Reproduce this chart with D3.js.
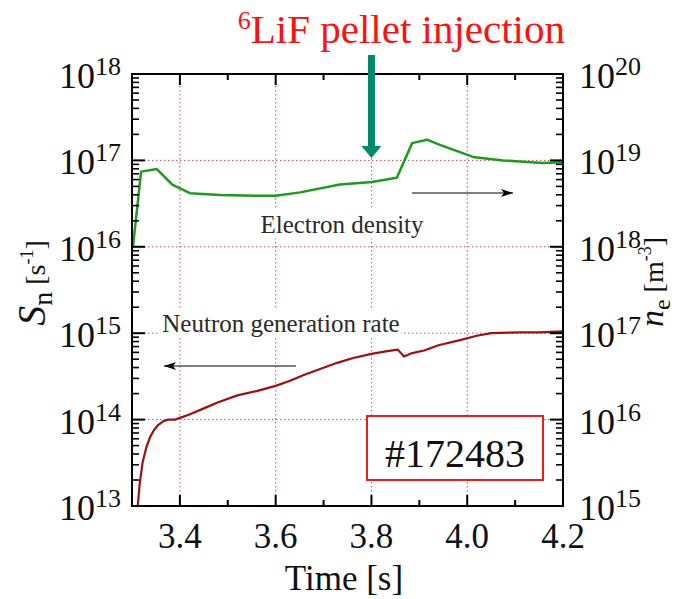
<!DOCTYPE html>
<html>
<head>
<meta charset="utf-8">
<script src="https://cdn.jsdelivr.net/npm/d3@7"></script>
<style>
  body { margin: 0; background: #fff; }
  text { font-family: "Liberation Serif", "Times New Roman", serif; }
</style>
</head>
<body>
<script>
var w = 681;
var h = 599;
var pL = 132, pT = 74, pR = 563, pB = 506;

// neutron generation rate S_n [s^-1], left axis
var snTime = [3.312, 3.316, 3.322, 3.330, 3.338, 3.346, 3.355, 3.365, 3.375, 3.390,
    3.400, 3.420, 3.450, 3.480, 3.520, 3.560, 3.600, 3.630, 3.660, 3.700,
    3.730, 3.760, 3.800, 3.830, 3.855, 3.868, 3.885, 3.910, 3.940, 3.985,
    4.020, 4.050, 4.110, 4.150, 4.200];
var snLog = [13.0, 13.25, 13.5, 13.68, 13.80, 13.88, 13.94, 13.98, 14.0, 14.0,
    14.02, 14.06, 14.13, 14.20, 14.28, 14.33, 14.39, 14.45, 14.52, 14.60,
    14.66, 14.71, 14.76, 14.79, 14.81, 14.73, 14.77, 14.80, 14.86, 14.92,
    14.97, 15.0, 15.01, 15.01, 15.02];

// electron density n_e [m^-3], right axis
var neTime = [3.302, 3.319, 3.352, 3.384, 3.421, 3.484, 3.561, 3.600, 3.651, 3.734,
    3.801, 3.853, 3.885, 3.916, 3.943, 4.012, 4.075, 4.158, 4.200];
var neLog = [18.0, 18.87, 18.90, 18.72, 18.62, 18.60, 18.59, 18.59, 18.63, 18.72,
    18.75, 18.80, 19.20, 19.24, 19.18, 19.04, 19.00, 18.97, 18.98];

var xMajor = [3.4, 3.6, 3.8, 4.0, 4.2];
var xMinor = [3.5, 3.7, 3.9, 4.1];
var leftExp = [13, 14, 15, 16, 17, 18];
var rightExp = [15, 16, 17, 18, 19, 20];
var gridExp = [14, 15, 16, 17];
var shot = "#172483";
var pelletTime = 3.8;

var x = d3.scaleLinear().domain([3.3, 4.2]).range([pL, pR]);
var yL = d3.scaleLog().domain([1e13, 1e18]).range([pB, pT]);
var yR = d3.scaleLog().domain([1e15, 1e20]).range([pB, pT]);

var svg = d3.select("body").append("svg")
    .attr("width", w)
    .attr("height", h);

var defs = svg.append("defs");
defs.append("marker").attr("id", "ah")
    .attr("viewBox", "0 0 12 8").attr("refX", 12).attr("refY", 4)
    .attr("markerWidth", 14).attr("markerHeight", 8)
    .attr("markerUnits", "userSpaceOnUse").attr("orient", "auto")
    .append("path").attr("d", "M0,0 L12,4 L0,8 L3,4 Z").attr("fill", "#000");

// grid
var grid = svg.append("g")
    .attr("stroke", "#b52a2a").attr("stroke-width", 1)
    .attr("stroke-dasharray", "1.5,2.5").attr("opacity", 0.8);
grid.selectAll(".gx").data(xMajor.filter(d => d < 4.2)).enter().append("line")
    .attr("x1", d => x(d)).attr("x2", d => x(d))
    .attr("y1", pT).attr("y2", pB);
grid.selectAll(".gy").data(gridExp).enter().append("line")
    .attr("x1", pL).attr("x2", pR)
    .attr("y1", d => yL(Math.pow(10, d))).attr("y2", d => yL(Math.pow(10, d)));

// curves
var line = d3.line().x(d => x(d[0])).y(d => d[1]);
svg.append("path")
    .datum(neTime.map((t, i) => [t, yR(Math.pow(10, neLog[i]))]))
    .attr("d", line).attr("fill", "none")
    .attr("stroke", "#1e9a1e").attr("stroke-width", 2.5)
    .attr("stroke-linejoin", "round");
svg.append("path")
    .datum(snTime.map((t, i) => [t, yL(Math.pow(10, snLog[i]))]))
    .attr("d", line).attr("fill", "none")
    .attr("stroke", "#9e1010").attr("stroke-width", 2.2)
    .attr("stroke-linejoin", "round");

// annotations with white backing
function label(txt, cx, cy, size) {
    var t = svg.append("text").attr("x", cx).attr("y", cy)
        .attr("text-anchor", "middle").attr("dominant-baseline", "central")
        .attr("font-size", size).attr("fill", "#2a2a2a").text(txt);
    var b = t.node().getBBox();
    svg.insert("rect", "text").attr("x", b.x - 2).attr("y", b.y - 1)
        .attr("width", b.width + 4).attr("height", b.height + 2).attr("fill", "#fff");
}
label("Electron density", 342, 224, 25);
label("Neutron generation rate", 281, 323, 25);

svg.append("line").attr("x1", 412).attr("x2", 513).attr("y1", 193).attr("y2", 193)
    .attr("stroke", "#000").attr("stroke-width", 1).attr("marker-end", "url(#ah)");
svg.append("line").attr("x1", 296).attr("x2", 164).attr("y1", 366).attr("y2", 366)
    .attr("stroke", "#000").attr("stroke-width", 1).attr("marker-end", "url(#ah)");

// shot number box
svg.append("rect").attr("x", 367).attr("y", 416).attr("width", 176).attr("height", 64)
    .attr("fill", "#fff").attr("stroke", "#f01c1c").attr("stroke-width", 2);
svg.append("text").attr("x", 455).attr("y", 467).attr("text-anchor", "middle")
    .attr("font-size", 40).attr("fill", "#111").text(shot);

// axes frame and ticks
var ax = svg.append("g").attr("stroke", "#000");
ax.append("rect").attr("x", pL).attr("y", pT)
    .attr("width", pR - pL).attr("height", pB - pT)
    .attr("fill", "none").attr("stroke-width", 2);

var xt = xMajor.filter(d => d < 4.2).map(d => [d, 11]).concat(xMinor.map(d => [d, 6]));
xt.forEach(function (d) {
    ax.append("line").attr("x1", x(d[0])).attr("x2", x(d[0]))
        .attr("y1", pB).attr("y2", pB - d[1]).attr("stroke-width", 2);
    ax.append("line").attr("x1", x(d[0])).attr("x2", x(d[0]))
        .attr("y1", pT).attr("y2", pT + d[1]).attr("stroke-width", 2);
});

yL.ticks().forEach(function (v) {
    var e = Math.log10(v);
    var major = Math.abs(e - Math.round(e)) < 1e-9;
    var len = major ? 13 : 7;
    var y = yL(v);
    ax.append("line").attr("x1", pL).attr("x2", pL + len)
        .attr("y1", y).attr("y2", y).attr("stroke-width", major ? 2 : 1.6);
    ax.append("line").attr("x1", pR).attr("x2", pR - len)
        .attr("y1", y).attr("y2", y).attr("stroke-width", major ? 2 : 1.6);
});

// tick labels
svg.selectAll(".xl").data(xMajor).enter().append("text")
    .attr("x", d => x(d)).attr("y", 548)
    .attr("text-anchor", "middle").attr("font-size", 35).attr("fill", "#111")
    .text(d => d.toFixed(1));

function pow10(g, xx, y, e, anchor) {
    var t = g.append("text").attr("x", xx).attr("y", y)
        .attr("text-anchor", anchor).attr("font-size", 36).attr("fill", "#111");
    t.append("tspan").text("10");
    t.append("tspan").attr("dy", -13).attr("font-size", 26).text(e);
}
leftExp.forEach(e => pow10(svg, 121, yL(Math.pow(10, e)) + 14, e, "end"));
rightExp.forEach(e => pow10(svg, 579, yR(Math.pow(10, e)) + 14, e, "start"));

// axis titles
svg.append("text").attr("x", 344).attr("y", 590).attr("text-anchor", "middle")
    .attr("font-size", 35).attr("fill", "#111").text("Time [s]");

var lt = svg.append("text").attr("transform", "translate(45,283) rotate(-90)")
    .attr("text-anchor", "middle").attr("fill", "#111").attr("font-size", 40);
lt.append("tspan").attr("font-style", "italic").text("S");
lt.append("tspan").attr("font-size", 28).attr("dy", 7).text("n");
lt.append("tspan").attr("font-size", 28).attr("dy", -7).text(" [s");
lt.append("tspan").attr("font-size", 18).attr("dy", -12).text("-1");
lt.append("tspan").attr("font-size", 28).attr("dy", 12).text("]");

var rt = svg.append("text").attr("transform", "translate(663,282) rotate(-90)")
    .attr("text-anchor", "middle").attr("fill", "#111").attr("font-size", 34);
rt.append("tspan").attr("font-style", "italic").text("n");
rt.append("tspan").attr("font-size", 24).attr("dy", 7).text("e");
rt.append("tspan").attr("font-size", 28).attr("dy", -7).text(" [m");
rt.append("tspan").attr("font-size", 18).attr("dy", -12).text("-3");
rt.append("tspan").attr("font-size", 28).attr("dy", 12).text("]");

// pellet injection title and arrow
var tt = svg.append("text").attr("x", 565).attr("y", 43).attr("text-anchor", "end")
    .attr("fill", "#ff1010").attr("font-size", 41);
tt.append("tspan").attr("font-size", 26).attr("dy", -14).text("6");
tt.append("tspan").attr("dy", 14).text("LiF pellet injection");

var px = x(pelletTime);
svg.append("rect").attr("x", px - 3.5).attr("y", 55).attr("width", 7).attr("height", 93)
    .attr("fill", "#00896b");
svg.append("path").attr("d", "M" + (px - 10) + ",146 L" + (px + 10) + ",146 L" + px + ",158 Z")
    .attr("fill", "#00896b");
</script>
</body>
</html>
